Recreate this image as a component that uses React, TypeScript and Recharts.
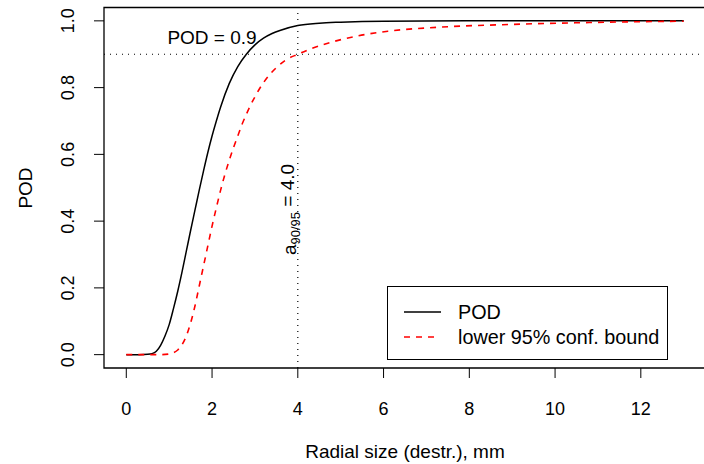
import {
  Legend,
  Line,
  LineChart,
  ReferenceArea,
  ReferenceDot,
  ReferenceLine,
  XAxis,
  YAxis,
} from "recharts";

// POD curve
const podX = [0, 0.3, 0.5, 0.6, 0.7, 0.8, 0.9, 1.0, 1.1, 1.2, 1.3, 1.4, 1.5, 1.6, 1.7, 1.8, 1.9, 2.0, 2.1, 2.2, 2.4, 2.6, 2.8, 3.0, 3.2, 3.4, 3.6, 4.0, 4.5, 5, 6, 8, 13];
const podY = [0, 0, 0.001, 0.003, 0.01, 0.028, 0.055, 0.09, 0.138, 0.19, 0.248, 0.31, 0.372, 0.432, 0.492, 0.55, 0.605, 0.655, 0.7, 0.742, 0.812, 0.863, 0.9, 0.928, 0.948, 0.962, 0.972, 0.986, 0.993, 0.996, 0.999, 1, 1];

// lower 95% confidence bound
const lowX = [0, 0.8, 1.0, 1.1, 1.2, 1.3, 1.4, 1.5, 1.6, 1.7, 1.8, 1.9, 2.0, 2.1, 2.2, 2.3, 2.4, 2.5, 2.6, 2.7, 2.8, 2.9, 3.0, 3.1, 3.3, 3.5, 3.7, 4.0, 4.3, 4.7, 5.4, 6.1, 7.3, 8.9, 10.8, 13];
const lowY = [0, 0, 0.002, 0.006, 0.014, 0.03, 0.056, 0.095, 0.145, 0.205, 0.265, 0.325, 0.385, 0.44, 0.493, 0.54, 0.582, 0.62, 0.655, 0.69, 0.72, 0.748, 0.772, 0.795, 0.832, 0.86, 0.881, 0.9, 0.916, 0.933, 0.955, 0.969, 0.981, 0.989, 0.995, 0.999];

const xTicks = [0, 2, 4, 6, 8, 10, 12];
const yTicks = [0, 0.2, 0.4, 0.6, 0.8, 1.0];

const podLevel = 0.9;
const a9095 = 4.0;

const pod = podX.map((x, i) => ({ x, y: podY[i] }));
const low = lowX.map((x, i) => ({ x, y: lowY[i] }));

const FONT = "Liberation Sans, Arial, sans-serif";

function XTick(props: any) {
  return (
    <text x={props.x} y={415} textAnchor="middle" fontSize={18} fontFamily={FONT} fill="#000">
      {props.payload.value}
    </text>
  );
}

function YTick(props: any) {
  const x = 68;
  return (
    <text
      x={x}
      y={props.y}
      dy="0.35em"
      transform={`rotate(-90 ${x} ${props.y})`}
      textAnchor="middle"
      fontSize={18}
      fontFamily={FONT}
      fill="#000"
    >
      {props.payload.value.toFixed(1)}
    </text>
  );
}

function LegendBox() {
  return (
    <div style={{ width: 281, height: 74, border: "1px solid #000", boxSizing: "border-box", background: "#fff" }}>
      <svg width={279} height={72} style={{ display: "block" }}>
        <line x1={16} x2={53} y1={25} y2={25} stroke="#000" strokeWidth={1.5} />
        <text x={70} y={32} fontSize={19.8} fontFamily={FONT}>POD</text>
        <line x1={16} x2={52} y1={50} y2={50} stroke="#ff0000" strokeWidth={1.5} strokeDasharray="6 6" />
        <text x={70} y={57} fontSize={19.8} fontFamily={FONT}>lower 95% conf. bound</text>
      </svg>
    </div>
  );
}

export default function App() {
  return (
    <div style={{ position: "absolute", left: 0, top: 0, width: 704, height: 464, overflow: "hidden", background: "#fff" }}>
      <LineChart width={712} height={464} margin={{ top: 7.5, right: 6, bottom: 0, left: 0 }}>
        <XAxis
          type="number"
          dataKey="x"
          domain={[-0.52, 13.52]}
          ticks={xTicks}
          allowDataOverflow
          height={96}
          axisLine={false}
          tickSize={10}
          tickLine={{ stroke: "#000", strokeWidth: 1 }}
          tick={<XTick />}
          label={{
            content: () => (
              <text x={405} y={458} textAnchor="middle" fontSize={19} fontFamily={FONT} fill="#000">
                Radial size (destr.), mm
              </text>
            ),
          }}
        />
        <YAxis
          type="number"
          domain={[-0.04, 1.04]}
          ticks={yTicks}
          allowDataOverflow
          width={104}
          axisLine={false}
          tickSize={10}
          tickLine={{ stroke: "#000", strokeWidth: 1 }}
          tick={<YTick />}
          label={{
            content: () => (
              <text
                x={25}
                y={188}
                dy="0.35em"
                transform="rotate(-90 25 188)"
                textAnchor="middle"
                fontSize={19}
                fontFamily={FONT}
                fill="#000"
              >
                POD
              </text>
            ),
          }}
        />
        <ReferenceArea x1={-0.52} x2={13.52} y1={-0.04} y2={1.04} fill="none" stroke="#000" strokeWidth={1.3} ifOverflow="visible" />
        <ReferenceLine y={podLevel} stroke="#000" strokeDasharray="1 5" strokeWidth={1.2} />
        <ReferenceLine x={a9095} stroke="#000" strokeDasharray="1 5" strokeWidth={1.2} />
        <Line data={pod} dataKey="y" type="monotone" stroke="#000" strokeWidth={1.5} dot={false} isAnimationActive={false} />
        <Line data={low} dataKey="y" type="monotone" stroke="#ff0000" strokeWidth={1.6} strokeDasharray="6 6" dot={false} isAnimationActive={false} />
        <ReferenceDot
          x={2.0}
          y={0.95}
          r={0}
          ifOverflow="visible"
          shape={(p: any) => (
            <text x={p.cx} y={p.cy} dy="0.35em" textAnchor="middle" fontSize={19} fontFamily={FONT} fill="#000">
              POD = 0.9
            </text>
          )}
        />
        <ReferenceDot
          x={3.81}
          y={0.435}
          r={0}
          ifOverflow="visible"
          shape={(p: any) => (
            <text
              x={p.cx}
              y={p.cy}
              dy="0.35em"
              transform={`rotate(-90 ${p.cx} ${p.cy})`}
              textAnchor="middle"
              fontSize={19}
              fontFamily={FONT}
              fill="#000"
            >
              <tspan>a</tspan>
              <tspan fontSize={13} dy="0.3em">90/95</tspan>
              <tspan dy="-0.3em"> = 4.0</tspan>
            </text>
          )}
        />
        <Legend
          layout="vertical"
          align="center"
          verticalAlign="middle"
          wrapperStyle={{ position: "absolute", left: 387, top: 286, width: 281, height: 74 }}
          content={() => <LegendBox />}
        />
      </LineChart>
    </div>
  );
}
